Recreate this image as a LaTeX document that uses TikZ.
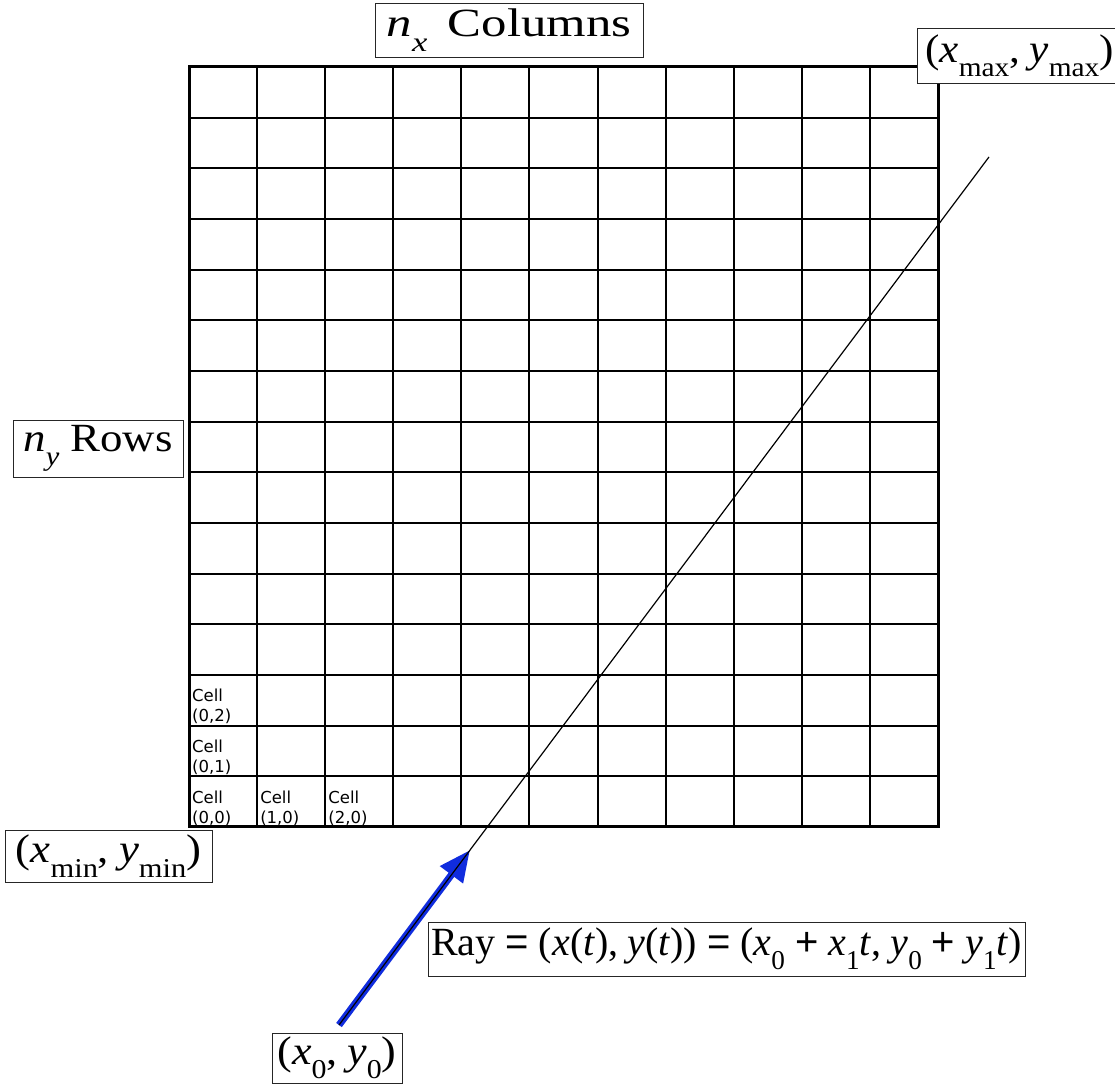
\documentclass[tikz,border=0pt]{standalone}
\usepackage{fontspec}
\setmainfont{Liberation Serif}
\newfontfamily\cellfont{DejaVu Sans}
\newfontfamily\opfont{Liberation Sans}
\usetikzlibrary{arrows.meta}

\newcommand{\iv}[1]{\textit{#1}}
\newcommand{\lo}[1]{\raisebox{-0.36em}{\scalebox{0.68}{#1}}}
\newcommand{\op}[1]{{\opfont #1}}
\newcommand{\cm}{,\hspace{0.22em}}
\newcommand{\wide}[2]{\scalebox{#1}[1]{#2}}
\definecolor{rayblue}{RGB}{16,44,222}

\begin{document}
\begin{tikzpicture}[
    x=68.09pt, y=50.67pt,
    lbl/.style={draw=black!85, line width=0.9pt, fill=white, inner sep=0pt,
        font=\fontsize{40}{46}\selectfont},
    celltxt/.style={anchor=south west, inner xsep=3pt, inner ysep=1.5pt, align=left,
        font=\cellfont\fontsize{16.5}{20}\selectfont},
    gridline/.style={line width=2pt}
]
    \useasboundingbox (-189pt,-256pt) rectangle (926pt,827pt);

    % grid: 11 columns, 15 rows
    \foreach \i in {1,...,10}
        \draw[gridline] (\i,0) -- (\i,15);
    \foreach \j in {1,...,14}
        \draw[gridline] (0,\j) -- (11,\j);
    \draw[line width=3pt] (0,0) rectangle (11,15);

    % cell labels
    \node[celltxt] (c00) at (0,0) {Cell\\(0,0)};
    \node[celltxt] (c10) at (1,0) {Cell\\(1,0)};
    \node[celltxt] (c20) at (2,0) {Cell\\(2,0)};
    \node[celltxt] (c01) at (0,1) {Cell\\(0,1)};
    \node[celltxt] (c02) at (0,2) {Cell\\(0,2)};

    % the ray
    \coordinate (rayStart) at (2.203,-3.908);
    \coordinate (rayTip) at (4.127,-0.454);
    \coordinate (rayEnd) at (11.749,13.223);
    \draw[rayblue, line width=7pt, -{Triangle[length=31pt,width=27pt]}] (rayStart) -- (rayTip);
    \draw[line width=1.2pt] (rayStart) -- (rayEnd);

    % boxed labels
    \node[lbl, minimum width=268pt, minimum height=54pt] (cols) at (4.700,15.729)
        {\wide{1.27}{\iv{n}\lo{\iv{x}}\hspace{0.15em} Columns}};
    \node[lbl, minimum width=205pt, minimum height=55pt] (corMax) at (12.197,15.226)
        {\wide{1.08}{(\iv{x}\lo{max}\cm\iv{y}\lo{max})}};
    \node[lbl, minimum width=170pt, minimum height=57pt] (rows) at (-1.336,7.470)
        {\wide{1.12}{\iv{n}\lo{\iv{y}} Rows}};
    \node[lbl, minimum width=207pt, minimum height=52pt] (corMin) at (-1.182,-0.572)
        {\wide{1.12}{(\iv{x}\lo{min}\cm\iv{y}\lo{min})}};
    \node[lbl, minimum width=597pt, minimum height=54pt] (rayEq) at (7.894,-2.408)
        {\wide{1.0}{Ray \op{=} (\iv{x}(\iv{t})\cm\iv{y}(\iv{t})) \op{=} (\iv{x}\lo{0} \op{+} \iv{x}\lo{1}\iv{t}\cm\iv{y}\lo{0} \op{+} \iv{y}\lo{1}\iv{t})}};
    \node[lbl, minimum width=130pt, minimum height=50pt] (origin) at (2.174,-4.559)
        {\wide{1.1}{(\iv{x}\lo{0}\cm\iv{y}\lo{0})}};
\end{tikzpicture}
\end{document}
